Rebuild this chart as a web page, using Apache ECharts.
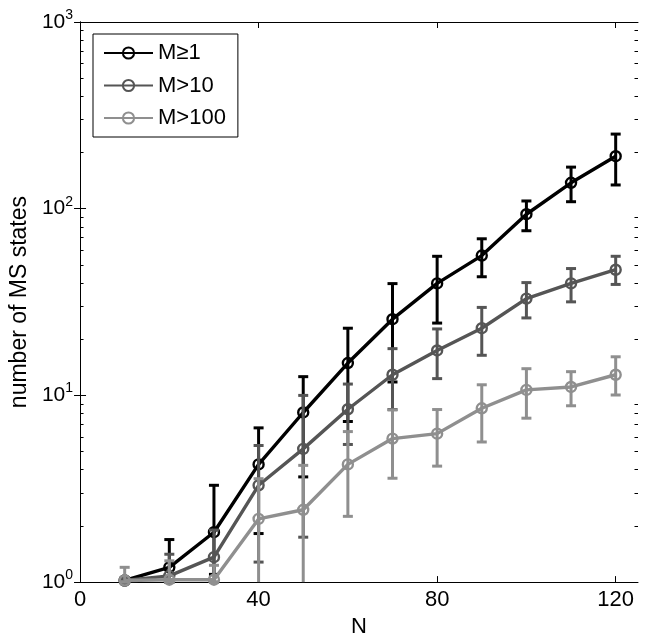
<!DOCTYPE html>
<html><head><meta charset="utf-8">
<script src="https://cdn.jsdelivr.net/npm/echarts@6/dist/echarts.min.js"></script>
<style>html,body{margin:0;padding:0;background:#fff}#c{width:645px;height:643px}</style>
</head><body><div id="c"></div>
<script>
var N = [10,20,30,40,50,60,70,80,90,100,110,120];
var m1   = [1.02,1.2,1.85,4.27,8.1,14.9,25.6,39.8,56.1,93.4,137.6,191];
var m1Lo = [1.0,1.0,1.1,1.82,3.66,7.25,11.8,24.4,43.2,76.2,109,134];
var m1Hi = [1.05,1.69,3.3,6.7,12.6,22.9,39.7,55.6,69,110,167,251];
var m10   = [1.02,1.08,1.36,3.30,5.17,8.43,12.9,17.4,22.9,33.0,39.8,47.1];
var m10Lo = [1.0,1.0,1.0,1.28,1.74,5.46,8.4,12.3,16.4,26,31.7,39.3];
var m10Hi = [1.05,1.41,1.9,5.39,10,11.5,17.8,22.7,29.6,40.2,47.8,55.6];
var m100   = [1.02,1.03,1.03,2.18,2.44,4.27,5.87,6.24,8.53,10.7,11.1,12.9];
var m100Lo = [1.0,1.0,1.0,0.5,0.5,2.25,3.6,4.18,5.63,7.55,8.8,10.05];
var m100Hi = [1.2,1.3,1.23,3.58,4.22,6.4,8.36,8.4,11.4,13.9,13.4,16.1];
var names = ['M\u22651','M>10','M>100'];
var colors = ['#000000','#555555','#8f8f8f'];
var xTicks = [0,40,80,120];
var yMajor = [1,10,100,1000];
var yMinor = [];
[1,10,100].forEach(function(d){for(var k=2;k<=9;k++)yMinor.push(d*k);});

var FONT = 'Liberation Sans, Arial, Helvetica, sans-serif';
var chart = echarts.init(document.getElementById('c'), null, {renderer:'canvas'});

function errSeries(vals, lo, hi, color, z){
  var data = N.map(function(n,i){return [n, lo[i], hi[i]];});
  return {
    type:'custom', z:z, silent:true, xAxisIndex:0, yAxisIndex:0,
    data:data, encode:{x:0,y:[1,2]},
    renderItem:function(params, api){
      var x = api.value(0);
      var pLo = api.coord([x, api.value(1)]);
      var pHi = api.coord([x, api.value(2)]);
      var cs = params.coordSys;
      var bottom = cs.y + cs.height;
      var clipped = false;
      var yLo = pLo[1];
      if (!(yLo <= bottom)) { yLo = bottom; clipped = true; }
      var hw = 5;
      var st = {stroke:color, lineWidth:3, fill:null};
      var ch = [
        {type:'line', shape:{x1:pHi[0],y1:pHi[1],x2:pHi[0],y2:yLo}, style:st},
        {type:'line', shape:{x1:pHi[0]-hw,y1:pHi[1],x2:pHi[0]+hw,y2:pHi[1]}, style:st}
      ];
      if (!clipped) ch.push({type:'line', shape:{x1:pLo[0]-hw,y1:yLo,x2:pLo[0]+hw,y2:yLo}, style:st});
      return {type:'group', children:ch};
    }
  };
}
function lineSeries(vals, idx, z){
  return {
    type:'line', name:names[idx], z:z, xAxisIndex:0, yAxisIndex:0,
    data:N.map(function(n,i){return [n, vals[i]];}),
    symbol:'circle', symbolSize:10, showSymbol:true,
    lineStyle:{color:colors[idx], width:3.4},
    itemStyle:{color:'rgba(0,0,0,0)', borderColor:colors[idx], borderWidth:2.4},
    emphasis:{disabled:true}, animation:false
  };
}

var axisLineStyle = {show:true, lineStyle:{color:'#000', width:1}};
var option = {
  animation:false,
  backgroundColor:'#fff',
  textStyle:{fontFamily:FONT},
  grid:{left:73, top:22, right:7, bottom:56, containLabel:false},
  legend:{
    left:93, top:34, orient:'vertical',
    data:names,
    backgroundColor:'#fff', borderColor:'#000', borderWidth:1, borderRadius:0,
    padding:[8,12,8,10], itemWidth:49, itemHeight:14, itemGap:10.5,
    textStyle:{fontFamily:FONT, fontSize:22, color:'#000'}
  },
  xAxis:[
    {type:'value', min:0, max:125, position:'bottom',
     name:'N', nameLocation:'middle', nameGap:31,
     nameTextStyle:{fontFamily:FONT, fontSize:22, color:'#000'},
     axisLine:axisLineStyle, splitLine:{show:false},
     axisTick:{show:true, inside:true, length:6, customValues:xTicks, lineStyle:{color:'#000'}},
     axisLabel:{show:true, customValues:xTicks, margin:7, fontFamily:FONT, fontSize:22, color:'#000'}},
    {type:'value', min:0, max:125, position:'top',
     axisLine:axisLineStyle, splitLine:{show:false},
     axisTick:{show:true, inside:true, length:6, customValues:xTicks, lineStyle:{color:'#000'}},
     axisLabel:{show:false}}
  ],
  yAxis:[
    {type:'log', logBase:10, min:1, max:1000, position:'left',
     name:'number of MS states', nameLocation:'middle', nameGap:46,
     nameTextStyle:{fontFamily:FONT, fontSize:23, color:'#000'},
     axisLine:axisLineStyle, splitLine:{show:false},
     axisTick:{show:true, inside:true, length:6, customValues:yMajor, lineStyle:{color:'#000'}},
     axisLabel:{show:true, customValues:yMajor, margin:7,
       formatter:function(v){var e=Math.round(Math.log10(v));return '{b|10}{s|'+e+'}';},
       rich:{b:{fontFamily:FONT, fontSize:21, color:'#000'},
             s:{fontFamily:FONT, fontSize:14, color:'#000', verticalAlign:'top', padding:[0,0,14,0]}}}},
    {type:'log', logBase:10, min:1, max:1000, position:'right',
     axisLine:axisLineStyle, splitLine:{show:false},
     axisTick:{show:true, inside:true, length:6, customValues:yMajor, lineStyle:{color:'#000'}},
     axisLabel:{show:false}},
    {type:'log', logBase:10, min:1, max:1000, position:'left',
     axisLine:{show:false}, splitLine:{show:false},
     axisTick:{show:true, inside:true, length:3.5, customValues:yMinor, lineStyle:{color:'#000'}},
     axisLabel:{show:false}},
    {type:'log', logBase:10, min:1, max:1000, position:'right',
     axisLine:{show:false}, splitLine:{show:false},
     axisTick:{show:true, inside:true, length:3.5, customValues:yMinor, lineStyle:{color:'#000'}},
     axisLabel:{show:false}}
  ],
  series:[
    errSeries(m1, m1Lo, m1Hi, colors[0], 1),
    lineSeries(m1, 0, 2),
    errSeries(m10, m10Lo, m10Hi, colors[1], 3),
    lineSeries(m10, 1, 4),
    errSeries(m100, m100Lo, m100Hi, colors[2], 5),
    lineSeries(m100, 2, 6)
  ]
};
chart.setOption(option);
</script></body></html>
